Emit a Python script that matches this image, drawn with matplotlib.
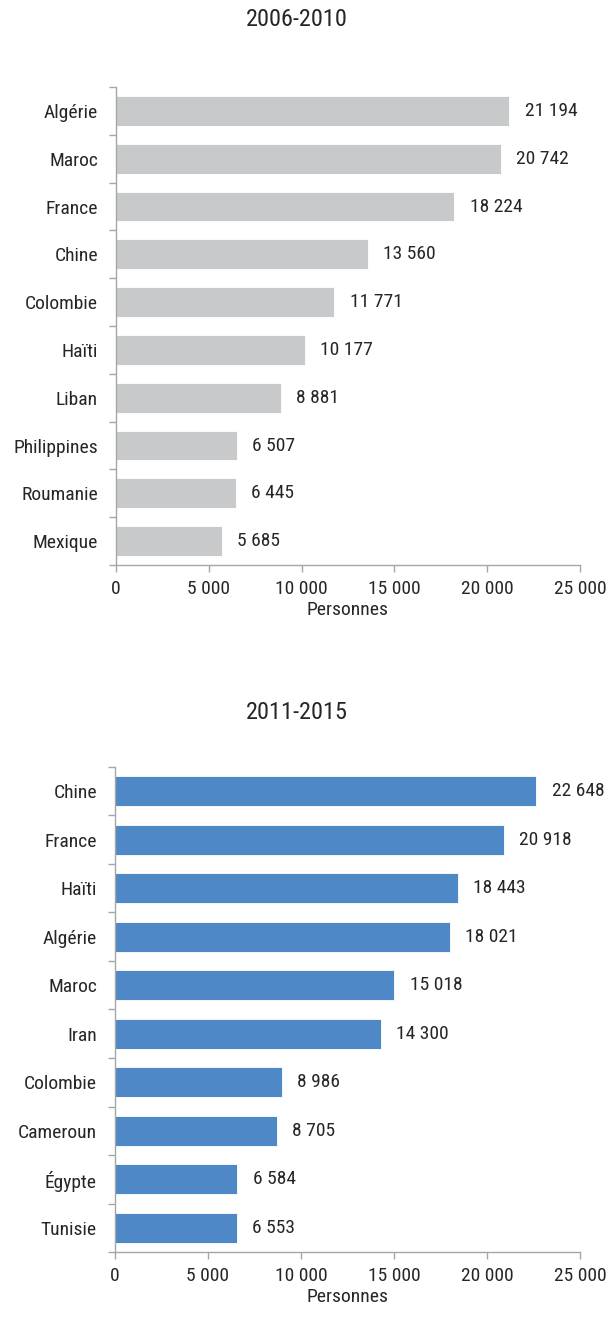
import matplotlib
matplotlib.use("Agg")
import matplotlib.pyplot as plt
from matplotlib import font_manager

names = {f.name for f in font_manager.fontManager.ttflist}
fam = [n for n in ["Liberation Sans Narrow", "Roboto Condensed", "Liberation Sans", "DejaVu Sans"] if n in names]
plt.rcParams['font.family'] = fam

title1 = "2006-2010"
cats1 = ["Algérie", "Maroc", "France", "Chine", "Colombie", "Haïti", "Liban", "Philippines", "Roumanie", "Mexique"]
vals1 = [21194, 20742, 18224, 13560, 11771, 10177, 8881, 6507, 6445, 5685]

title2 = "2011-2015"
cats2 = ["Chine", "France", "Haïti", "Algérie", "Maroc", "Iran", "Colombie", "Cameroun", "Égypte", "Tunisie"]
vals2 = [22648, 20918, 18443, 18021, 15018, 14300, 8986, 8705, 6584, 6553]

xticks = [0, 5000, 10000, 15000, 20000, 25000]
xlabel = "Personnes"

def fmt(v):
    return f"{v:,}".replace(",", " ")

fig = plt.figure(figsize=(6.13, 13.17), dpi=100)
spine_c = "#A6A6A6"
txt_c = "#262626"
fs = 14

def draw(ax, cats, vals, color, title):
    n = len(cats)
    ys = list(range(n))
    ax.barh(ys, vals, height=0.62, color=color, edgecolor="white", linewidth=0.6)
    ax.set_ylim(n - 0.5, -0.5)
    ax.set_xlim(0, 25000)
    ax.set_yticks(ys)
    ax.set_yticklabels(cats, fontsize=fs, color=txt_c)
    ax.set_yticks([i - 0.5 for i in range(n + 1)], minor=True)
    ax.tick_params(axis="y", which="major", length=0, pad=13)
    ax.tick_params(axis="y", which="minor", length=5, color=spine_c, width=1)
    ax.set_xticks(xticks)
    ax.set_xticklabels([fmt(t) for t in xticks], fontsize=fs, color=txt_c)
    ax.tick_params(axis="x", length=5, color=spine_c, width=1, pad=6)
    for s in ["top", "right"]:
        ax.spines[s].set_visible(False)
    for s in ["left", "bottom"]:
        ax.spines[s].set_color(spine_c)
        ax.spines[s].set_linewidth(1)
    for y, v in zip(ys, vals):
        ax.annotate(fmt(v), (v, y), xytext=(11, 0), textcoords="offset points",
                    va="center", ha="left", fontsize=fs, color=txt_c)
    ax.set_xlabel(xlabel, fontsize=fs, color=txt_c, labelpad=2)

ax1 = fig.add_axes([116/613, 1 - 565/1317, (580-116)/613, (565-87)/1317])
draw(ax1, cats1, vals1, "#C8C9CB", title1)
fig.text(297/613, 1 - 20/1317, title1, ha="center", va="center", fontsize=17.5, color=txt_c)

ax2 = fig.add_axes([115/613, 1 - 1252/1317, (580-115)/613, (1252-767)/1317])
draw(ax2, cats2, vals2, "#4F88C6", title2)
fig.text(297/613, 1 - 712/1317, title2, ha="center", va="center", fontsize=17.5, color=txt_c)

fig.savefig("out.png", dpi=100)
